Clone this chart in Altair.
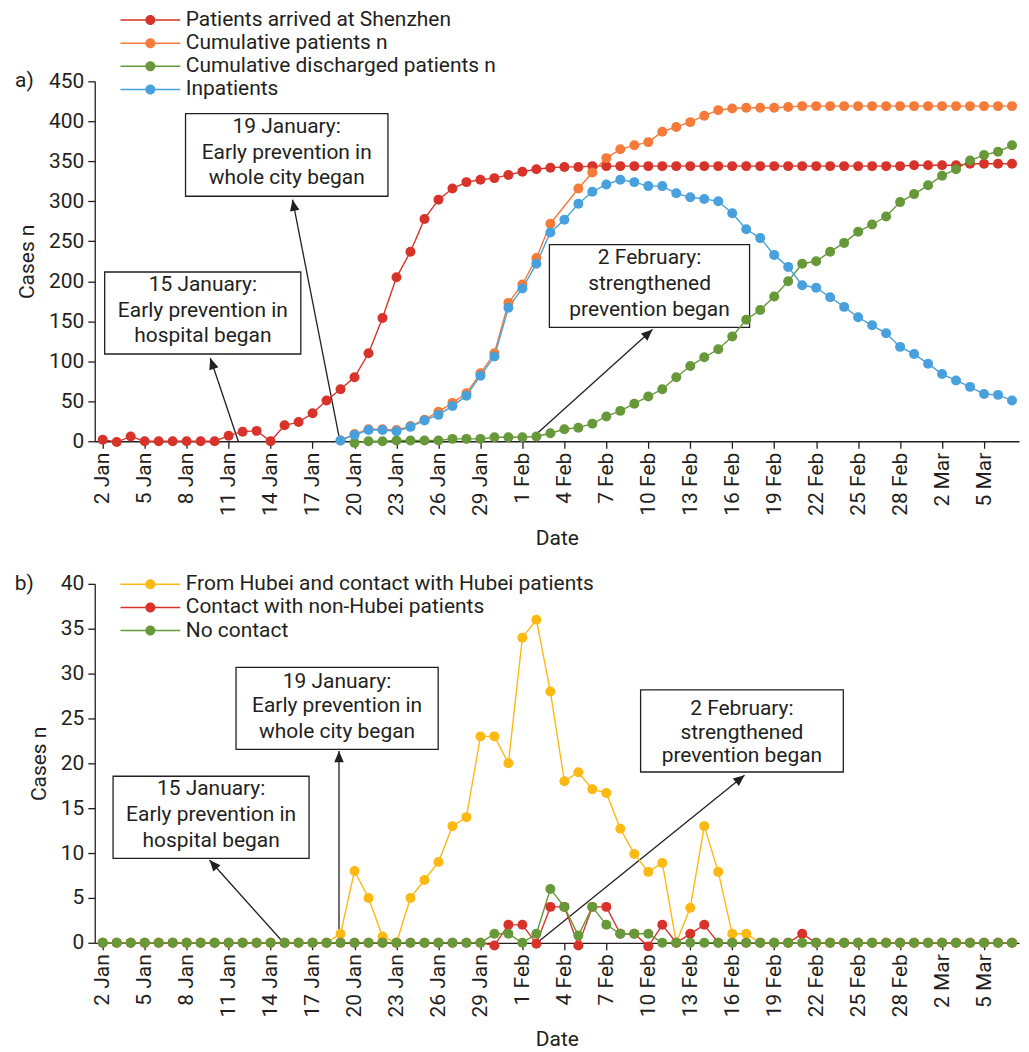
import math
import altair as alt
import pandas as pd

FONT = "Roboto"
TXT = "#231f20"
FS = 21
N = None

DAYS = list(range(66))  # 2 Jan 2020 ... 7 Mar 2020
TICK_DAYS = list(range(0, 66, 3))
TICK_LABELS = ["2 Jan", "5 Jan", "8 Jan", "11 Jan", "14 Jan", "17 Jan", "20 Jan",
               "23 Jan", "26 Jan", "29 Jan", "1 Feb", "4 Feb", "7 Feb", "10 Feb",
               "13 Feb", "16 Feb", "19 Feb", "22 Feb", "25 Feb", "28 Feb", "2 Mar", "5 Mar"]

# ---------------- panel a ----------------
SERIES_A = ["Patients arrived at Shenzhen", "Cumulative patients n",
            "Cumulative discharged patients n", "Inpatients"]
COLORS_A = ["#d7332b", "#f47b3a", "#67983a", "#48a1dc"]
ARRIVED = [2, -1, 6, 0, 0, 0, 0, 0, 0, 7,
           12, 13, 0, 20, 24, 35, 51, 65, 80, 110,
           154, 205, 237, 278, 302, 316, 324, 327, 329, 333,
           337, 340, 342, 343, 343, 344, 344, 344, 344, 344,
           344, 344, 344, 344, 344, 344, 344, 344, 344, 344,
           344, 344, 344, 344, 344, 344, 344, 344, 345, 345,
           345, 345, 347, 347, 347, 347]
CUMULATIVE = [N, N, N, N, N, N, N, N, N, N,
              N, N, N, N, N, N, N, 1, 9, 15,
              15, 14, 19, 27, 37, 48, 60, 85, 110, 173,
              196, 229, 272, N, 316, 336, 354, 365, 370, 374,
              387, 393, 399, 407, 414, 416, 417, 417, 417, 418,
              419, 419, 419, 419, 419, 419, 419, 419, 419, 419,
              419, 419, 419, 419, 419, 419]
DISCHARGED = [N, N, N, N, N, N, N, N, N, N,
              N, N, N, N, N, N, N, N, -2, 0,
              0, 1, 1, 1, 1, 3, 3, 3, 5, 5,
              5, 6, 10, 15, 17, 22, 31, 38, 47, 56,
              65, 80, 94, 105, 115, 131, 152, 164, 181, 200,
              222, 225, 237, 248, 262, 271, 281, 299, 309, 320,
              332, 340, 351, 358, 362, 370]
INPATIENTS = [N, N, N, N, N, N, N, N, N, N,
              N, N, N, N, N, N, N, 1, 8, 14,
              14, 12.5, 18, 26, 33, 44, 57, 82, 106, 167,
              191, 222, 261, 277, 297, 312, 321, 327, 324, 319,
              319, 310, 305, 303, 300, 285, 265, 254, 233, 218,
              195, 192, 180, 168, 155, 145, 135, 118, 109, 97,
              84, 76, 68, 59, 58, 51]

# ---------------- panel b ----------------
SERIES_B = ["From Hubei and contact with Hubei patients",
            "Contact with non-Hubei patients", "No contact"]
COLORS_B = ["#fdb913", "#d7332b", "#67983a"]
HUBEI = [0, 0, 0, 0, 0, 0, 0, 0, 0, 0,
         0, 0, 0, 0, 0, 0, 0, 1, 8, 5,
         0.7, 0, 5, 7, 9, 13, 14, 23, 23, 20,
         34, 36, 28, 18, 19, 17.1, 16.7, 12.7, 9.9, 7.9,
         8.9, 0, 3.9, 13, 7.9, 1, 1, 0, 0, 0,
         0, 0, 0, 0, 0, 0, 0, 0, 0, 0,
         0, 0, 0, 0, 0, 0]
NON_HUBEI = [0, 0, 0, 0, 0, 0, 0, 0, 0, 0,
             0, 0, 0, 0, 0, 0, 0, 0, 0, 0,
             0, 0, 0, 0, 0, 0, 0, 0, -0.3, 2,
             2, -0.1, 4, 4, -0.3, 4, 4, 1, 1, -0.4,
             2, 0, 1, 2, 0, 0, 0, 0, 0, 0,
             1, 0, 0, 0, 0, 0, 0, 0, 0, 0,
             0, 0, 0, 0, 0, 0]
NO_CONTACT = [0, 0, 0, 0, 0, 0, 0, 0, 0, 0,
              0, 0, 0, 0, 0, 0, 0, 0, 0, 0,
              0, 0, 0, 0, 0, 0, 0, 0, 1, 1,
              0, 1, 6, 4, 0.8, 4, 2, 1, 1, 1,
              0, 0, 0, 0, 0, 0, 0, 0, 0, 0,
              0, 0, 0, 0, 0, 0, 0, 0, 0, 0,
              0, 0, 0, 0, 0, 0]

# ---------------- annotations (data units: day index, cases) ----------------
NOTE_LINES = [["15 January:", "Early prevention in", "hospital began"],
              ["19 January:", "Early prevention in", "whole city began"],
              ["2 February:", "strengthened", "prevention began"]]
# boxes: day_left, day_right, value_top, value_bottom
BOX_A = [(0.14, 14.16, 211.6, 109.1), (5.92, 20.39, 409.6, 306.3), (31.93, 46.24, 245.9, 142.5)]
TEXT_X_A = [7.16, 13.15, 39.09]
TEXT_Y_A = [(195, 162.5, 131), (392.9, 360.4, 329.2), (229.2, 197.1, 164.6)]
ARROW_A = [(9.69, 0, 7.69, 104), (16.96, 0, 13.57, 302), (30.91, 7.5, 39.3, 139.6)]

BOX_B = [(0.74, 14.75, 18.56, 9.41), (9.53, 23.98, 30.7, 21.56), (38.45, 52.94, 28.19, 19.03)]
TEXT_X_B = [7.75, 16.75, 45.69]
TEXT_Y_B = [(17.08, 14.19, 11.33), (29.03, 26.37, 23.48), (26.1, 23.33, 20.78)]
ARROW_B = [(12.93, 0, 7.63, 9.22), (16.89, 0, 16.89, 21.37), (31.05, 0, 45.88, 18.67)]

TAG_X = -5.6

X_DOMAIN = [-0.57, 65.5]
WIDTH = 927

ARROW_PATH = "M0,0L-0.6,1.4L0.6,1.4Z"
# legend glyph: a line with a dot in the middle (unit = 10 px at symbolSize 400)
LEG_PATH = ("M-3,-0.075H3V0.075H-3Z "
            "M-0.5,0A0.5,0.5 0 1,1 0.5,0A0.5,0.5 0 1,1 -0.5,0Z")

label_expr = "[" + ",".join("'%s'" % t for t in TICK_LABELS) + "][round(datum.value / 3)]"


def panel(series, values, colors, ymax, ystep, height, boxes, text_x, text_y, arrows,
          tag, legend_y):
    rows = []
    for name, vals in zip(series, values):
        for d, v in zip(DAYS, vals):
            if v is not None:
                rows.append({"series": name, "day": d, "value": v})
    df = pd.DataFrame(rows)

    xs = alt.Scale(domain=X_DOMAIN, nice=False, zero=False)
    ys = alt.Scale(domain=[0, ymax], nice=False, zero=False)
    xaxis = alt.Axis(values=TICK_DAYS, labelExpr=label_expr, labelAngle=-90, grid=False,
                     labelFlush=False, labelOverlap=False, titlePadding=12)
    yaxis = alt.Axis(values=list(range(0, ymax + 1, ystep)), grid=False,
                     labelFlush=False, labelOverlap=False, titlePadding=11)

    def X(f):
        return alt.X(f"{f}:Q", scale=xs, axis=xaxis, title="Date")

    def Y(f):
        return alt.Y(f"{f}:Q", scale=ys, axis=yaxis, title="Cases n")

    box_df = pd.DataFrame(boxes, columns=["x1", "x2", "y1", "y2"])
    txt_rows = []
    for lines, tx, tys in zip(NOTE_LINES, text_x, text_y):
        for line, ty in zip(lines, tys):
            txt_rows.append({"tx": tx, "ty": ty, "label": line})
    txt_df = pd.DataFrame(txt_rows)

    px_day = WIDTH / (X_DOMAIN[1] - X_DOMAIN[0])
    px_val = height / ymax
    arr_rows = []
    for x1, y1, x2, y2 in arrows:
        dx = (x2 - x1) * px_day
        dy = -(y2 - y1) * px_val
        ang = math.degrees(math.atan2(dx, -dy)) % 360
        arr_rows.append({"ax": x1, "ay": y1, "bx": x2, "by": y2, "angle": ang})
    arr_df = pd.DataFrame(arr_rows)
    tag_df = pd.DataFrame([{"gx": TAG_X, "gy": ymax, "tag": tag}])

    rects = alt.Chart(box_df).mark_rect(fill="white", stroke=TXT, strokeWidth=1.3).encode(
        x=X("x1"), x2="x2", y=Y("y1"), y2="y2")
    texts = alt.Chart(txt_df).mark_text(font=FONT, fontSize=FS, color=TXT,
                                        align="center", baseline="middle").encode(
        x=X("tx"), y=Y("ty"), text="label:N")
    rules = alt.Chart(arr_df).mark_rule(color=TXT, strokeWidth=1.3).encode(
        x=X("ax"), y=Y("ay"), x2="bx", y2="by")
    heads = alt.Chart(arr_df).mark_point(shape=ARROW_PATH, filled=True, size=256,
                                         color=TXT, opacity=1, strokeWidth=0).encode(
        x=X("bx"), y=Y("by"), angle=alt.Angle("angle:Q", scale=None))
    line_layers = []
    for name, col in zip(series, colors):
        line_layers.append(
            alt.Chart(df).transform_filter(alt.datum.series == name)
            .mark_line(strokeWidth=1.4, color=col)
            .encode(x=X("day"), y=Y("value")))
    cscale = alt.Scale(domain=series, range=colors)
    points = alt.Chart(df).mark_circle(size=100, opacity=1).encode(
        x=X("day"), y=Y("value"),
        color=alt.Color("series:N", scale=cscale, sort=series,
                        legend=alt.Legend(orient="none", legendX=25.3, legendY=legend_y,
                                          title=None, symbolType=LEG_PATH, symbolSize=400,
                                          symbolOffset=20, symbolStrokeWidth=0,
                                          labelFont=FONT, labelFontSize=FS, labelColor=TXT,
                                          labelOffset=25, rowPadding=1.2, padding=0,
                                          labelLimit=0)))
    tagm = alt.Chart(tag_df).mark_text(font=FONT, fontSize=FS, color=TXT,
                                       align="center", baseline="middle").encode(
        x=X("gx"), y=Y("gy"), text="tag:N")
    return alt.layer(rects, texts, rules, heads, *line_layers, points, tagm).properties(
        width=WIDTH, height=height)


pa = panel(SERIES_A, [ARRIVED, CUMULATIVE, DISCHARGED, INPATIENTS], COLORS_A, 450, 50, 361,
           BOX_A, TEXT_X_A, TEXT_Y_A, ARROW_A, "a)", -72)
pb = panel(SERIES_B, [HUBEI, NON_HUBEI, NO_CONTACT], COLORS_B, 40, 5, 360,
           BOX_B, TEXT_X_B, TEXT_Y_B, ARROW_B, "b)", -10)

chart = alt.vconcat(pa, pb, spacing=24).resolve_scale(
    color="independent", x="independent", y="independent").resolve_legend(
    color="independent").properties(
    padding={"left": 6, "top": 0, "right": 2, "bottom": 0}
).configure(font=FONT).configure_view(stroke=None).configure_axis(
    domainColor=TXT, tickColor=TXT, labelColor=TXT, titleColor=TXT,
    labelFont=FONT, titleFont=FONT, labelFontSize=FS, titleFontSize=FS,
    titleFontWeight="normal", tickSize=7, domainWidth=1.3, tickWidth=1.3, labelPadding=4)

chart.save("out.html", embed_options={"renderer": "svg", "actions": False})
